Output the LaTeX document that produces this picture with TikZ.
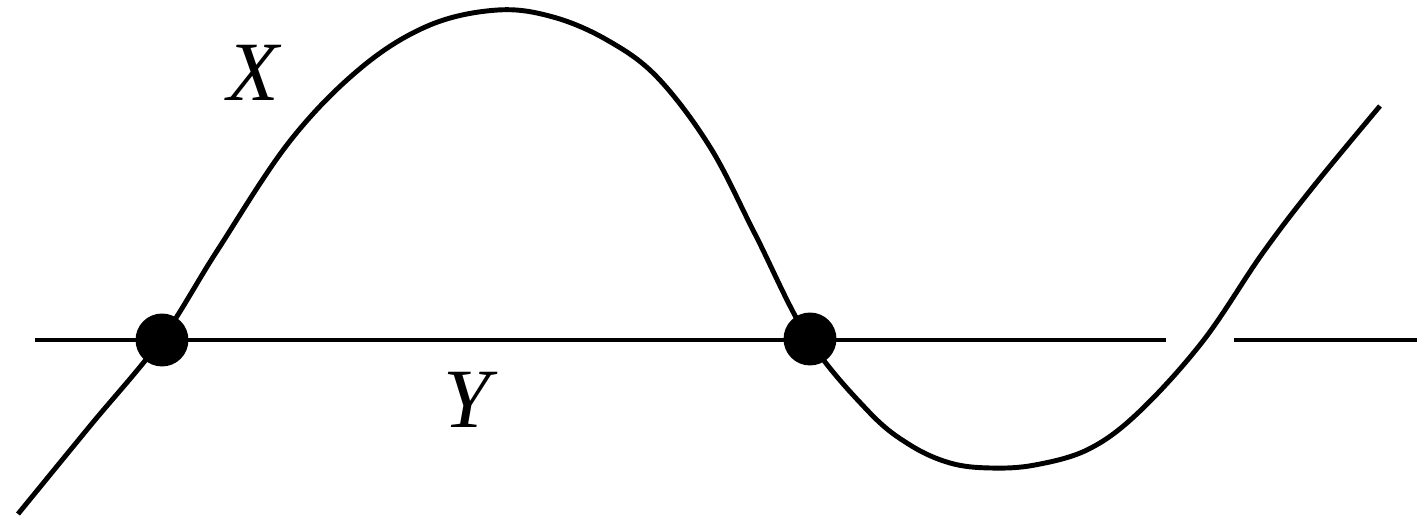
\documentclass[tikz,border=0pt]{standalone}
\usepackage{fontspec}
\setmainfont{Liberation Serif}
\usepackage{tikz}

\begin{document}
\begin{tikzpicture}[x=0.01cm, y=-0.01cm, line width=1.4pt,
    lbl/.style={font=\fontsize{24}{28}\selectfont\itshape, inner sep=0pt}]
        \useasboundingbox (0,0) rectangle (1417,525);
        % the line Y, broken where X passes over it
        \coordinate (yl) at (35,340);
        \coordinate (ym) at (1166,340);
        \coordinate (yn) at (1234,340);
        \coordinate (yr) at (1417,340);
        \draw (yl) -- (ym);
        \draw (yn) -- (yr);
        % the curve X
        \draw plot[smooth, tension=0.6] coordinates {(18,514) (90,426) (161,340) (217,251) (290,141) (362,67)
            (430,25) (498,10) (553,17) (607,40) (657,77) (710,147) (755,234) (808,338) (869,412)
            (910,445) (950,463) (990,468) (1035,465) (1089,449) (1139,412) (1203,341) (1262,254)
            (1313,187) (1380,106)};
        % intersection points
        \coordinate (p) at (162,340);
        \coordinate (q) at (810,339);
        \filldraw (p) circle (24);
        \filldraw (q) circle (24);
        \node[lbl] (xlabel) at (253,73) {X};
        \node[lbl] (ylabel) at (467,400) {Y};
    \end{tikzpicture}
\end{document}
